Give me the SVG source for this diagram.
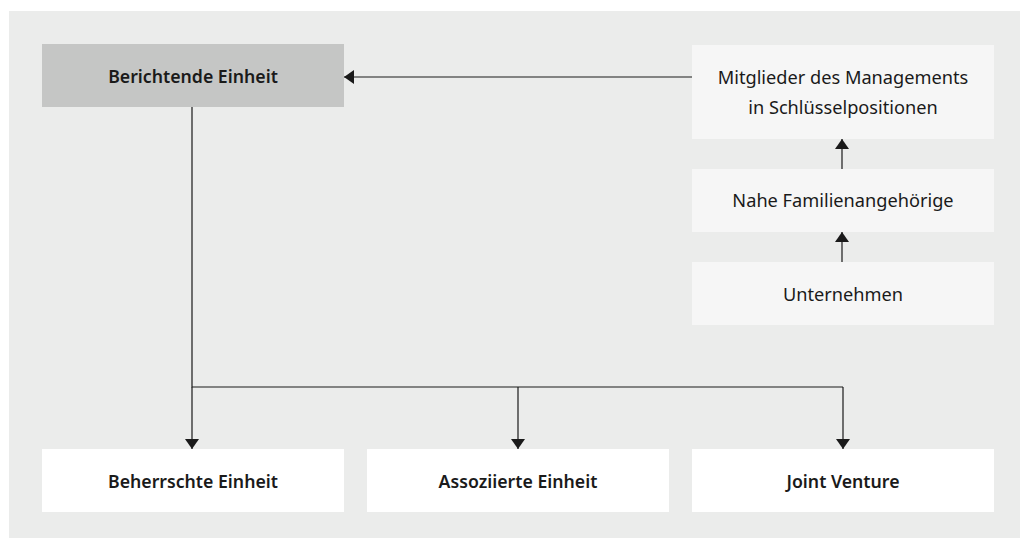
<svg xmlns="http://www.w3.org/2000/svg" width="1020" height="538" viewBox="0 0 1020 538">
<defs>
<style>
.bg{fill:#ebeceb}
.main{fill:#c5c6c5}
.light{fill:#f6f6f6}
.white{fill:#ffffff}
text{font-family:"Noto Sans","Liberation Sans",sans-serif;fill:#1a1a1a;text-anchor:middle}
.b{font-size:17.7px;font-weight:600}
.r{font-size:18.2px;font-weight:400}
.c{stroke:#1a1a1a;stroke-width:1.2;fill:none}
</style>
<marker id="ah" viewBox="0 0 10 14" refX="10" refY="7" markerWidth="10" markerHeight="14" markerUnits="userSpaceOnUse" orient="auto">
<path d="M0,0 L10,7 L0,14 z" fill="#1a1a1a"/>
</marker>
</defs>
<rect class="bg" x="9" y="11" width="1011" height="527"/>
<g id="berichtende"><rect class="main" x="42" y="44" width="302" height="63"/><text class="b" x="193" y="83">Berichtende Einheit</text></g>
<g id="management"><rect class="light" x="692" y="45" width="302" height="94"/><text class="r" x="843" y="84">Mitglieder des Managements</text><text class="r" x="843" y="114">in Schlüsselpositionen</text></g>
<g id="familie"><rect class="light" x="692" y="169" width="302" height="63"/><text class="r" x="843" y="207">Nahe Familienangehörige</text></g>
<g id="unternehmen"><rect class="light" x="692" y="262" width="302" height="63"/><text class="r" x="843" y="301">Unternehmen</text></g>
<g id="beherrschte"><rect class="white" x="42" y="449" width="302" height="63"/><text class="b" x="193" y="488">Beherrschte Einheit</text></g>
<g id="assoziierte"><rect class="white" x="367" y="449" width="302" height="63"/><text class="b" x="518" y="488">Assoziierte Einheit</text></g>
<g id="joint"><rect class="white" x="692" y="449" width="302" height="63"/><text class="b" x="843" y="488">Joint Venture</text></g>
<g id="connectors">
<line class="c" x1="692" y1="77" x2="344" y2="77" marker-end="url(#ah)"/>
<line class="c" x1="842" y1="169" x2="842" y2="139" marker-end="url(#ah)"/>
<line class="c" x1="842" y1="262" x2="842" y2="232" marker-end="url(#ah)"/>
<polyline class="c" points="192,107 192,387 843,387"/>
<line class="c" x1="192" y1="387" x2="192" y2="449" marker-end="url(#ah)"/>
<line class="c" x1="518" y1="387" x2="518" y2="449" marker-end="url(#ah)"/>
<line class="c" x1="843" y1="387" x2="843" y2="449" marker-end="url(#ah)"/>
</g>
</svg>
